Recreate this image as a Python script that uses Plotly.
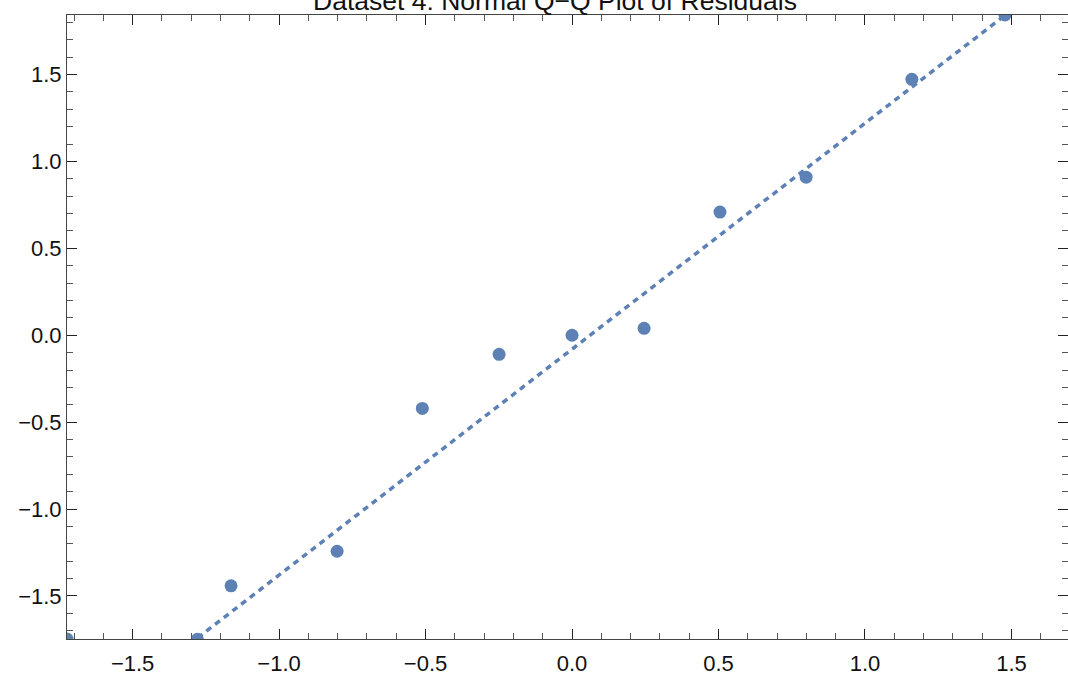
import numpy as np
import plotly.graph_objects as go

# Theoretical normal quantiles (x) and standardized residuals (y)
theoretical_q = [-1.724, -1.279, -1.164, -0.802, -0.511, -0.249, 0.0, 0.246, 0.505, 0.799, 1.160, 1.478]
residuals = [-1.748, -1.750, -1.442, -1.243, -0.421, -0.110, 0.0, 0.040, 0.709, 0.910, 1.473, 1.843]

# Reference line parameters
line_intercept = -0.08
line_slope = 1.30

x_range = [-1.724, 1.693]
y_range = [-1.748, 1.843]

title_text = "Dataset 4: Normal Q\u2212Q Plot of Residuals"
color = "#5E81B5"

line_x = np.array(x_range)
line_y = line_intercept + line_slope * line_x

fig = go.Figure()
fig.add_trace(go.Scatter(
    x=line_x, y=line_y, mode="lines",
    line=dict(color=color, width=3.5, dash="6px,5px"),
    showlegend=False, hoverinfo="skip",
))
fig.add_trace(go.Scatter(
    x=theoretical_q, y=residuals, mode="markers",
    marker=dict(color=color, size=13, line=dict(width=0)),
    showlegend=False, cliponaxis=True,
))

axis_common = dict(
    showgrid=False, zeroline=False, showline=True, linecolor="#444444", linewidth=1,
    mirror="ticks", ticks="inside", ticklen=10, tickwidth=1, tickcolor="#222222",
    tickfont=dict(family="Liberation Sans, Arial, sans-serif", size=22, color="#111111"),
    minor=dict(ticks="inside", ticklen=6, tickwidth=1, tickcolor="#555555", dtick=0.1, showgrid=False),
)

fig.update_xaxes(range=x_range, dtick=0.5, tick0=0, tickformat=".1f", ticklabelstandoff=5, **axis_common)
fig.update_yaxes(range=y_range, dtick=0.5, tick0=0, tickformat=".1f", **axis_common)

fig.update_layout(
    width=1068, height=677,
    margin=dict(l=67, r=0, t=15, b=38),
    plot_bgcolor="white", paper_bgcolor="white",
    title=dict(text=title_text, x=555/1068, xanchor="center", xref="container",
               yref="container", y=1 - 1/677, yanchor="middle",
               font=dict(family="Liberation Sans, Arial, sans-serif", size=26.5, color="#111111")),
)

fig.write_html("out.html")
